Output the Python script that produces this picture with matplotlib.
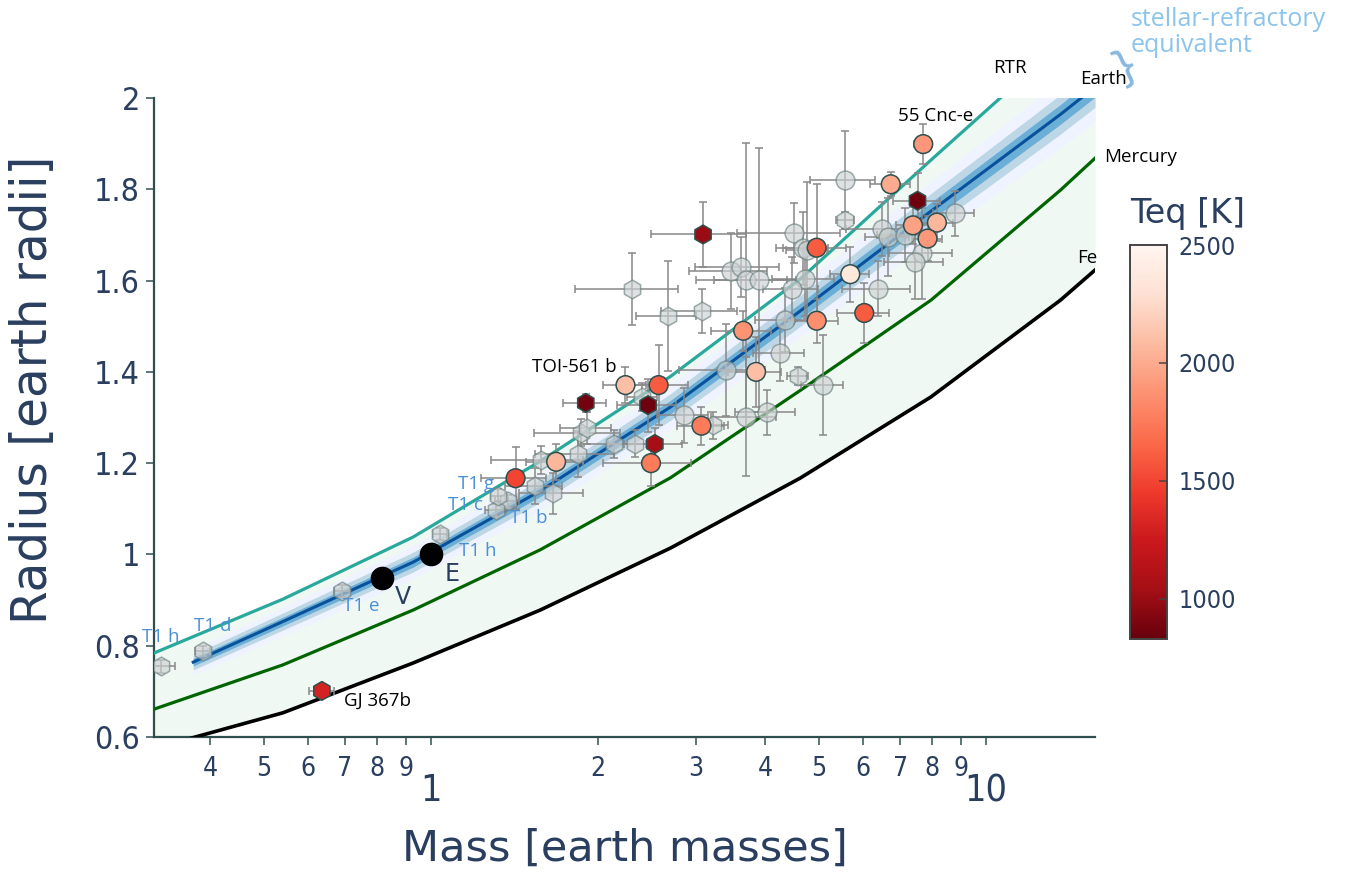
import matplotlib.pyplot as plt
from matplotlib.colors import Normalize
from matplotlib.cm import ScalarMappable

plt.rcParams["font.family"] = ["DejaVu Sans"]
plt.rcParams["font.stretch"] = "condensed"

SLATE = "#2a3f5f"
AXIS = "#2f4f4f"

# composition curves: mass [M_earth] -> radius [R_earth]
CURVE_MASS = [0.317, 0.541, 0.928, 1.572, 2.70, 4.62, 7.95, 13.6, 15.7]
FE_RADIUS = [0.575, 0.653, 0.762, 0.878, 1.014, 1.167, 1.345, 1.557, 1.623]
MERCURY_RADIUS = [0.661, 0.758, 0.878, 1.010, 1.168, 1.359, 1.557, 1.798, 1.868]
RTR_RADIUS = [0.784, 0.902, 1.038, 1.204, 1.390, 1.603, 1.864, 2.118, 2.197]

# stellar-refractory equivalent Earth curve and its spread
EARTH_MASS = [0.373, 0.541, 0.928, 1.572, 2.70, 4.62, 7.95, 13.6, 15.7]
EARTH_RADIUS = [0.764, 0.853, 0.983, 1.139, 1.323, 1.533, 1.752, 1.964, 2.024]
BAND_FRAC = [0.037, 0.022, 0.011]

# planets with Teq, circles
C_MASS = [7.70, 6.73, 4.95, 7.38, 8.15, 7.84, 5.69, 6.03, 4.95, 3.65, 3.85,
          3.07, 2.24, 2.57, 2.49, 1.68, 1.42]
C_RADIUS = [1.899, 1.811, 1.672, 1.721, 1.727, 1.692, 1.614, 1.529, 1.512,
            1.490, 1.400, 1.282, 1.371, 1.371, 1.200, 1.203, 1.167]
C_MERR = [0.29, 0.55, 0.65, 0.5, 0.55, 0.5, 0.45, 0.65, 0.45, 0.45, 0.42,
          0.3, 0.2, 0.33, 0.45, 0.2, 0.19]
C_RERR = [0.044, 0.026, 0.14, 0.04, 0.04, 0.05, 0.06, 0.065, 0.048, 0.044,
          0.077, 0.042, 0.04, 0.088, 0.05, 0.04, 0.068]
C_TEQ = [1900, 2000, 1600, 1950, 2050, 1900, 2350, 1600, 1850, 1880, 2100,
         1750, 2100, 1600, 1750, 2050, 1500]

# planets with Teq, hexagons (last one is GJ 367b)
H_MASS = [3.09, 7.52, 1.90, 2.46, 2.53, 0.636]
H_RADIUS = [1.701, 1.775, 1.332, 1.327, 1.242, 0.701]
H_MERR = [0.6, 0.72, 0.17, 0.3, 0.3, 0.032]
H_RERR = [0.072, 0.06, 0.02, 0.058, 0.035, 0.013]
H_TEQ = [1000, 850, 870, 850, 1050, 1300]

# planets without Teq
GC_MASS = [5.56, 4.51, 4.68, 4.76, 6.49, 6.66, 7.15, 8.77, 7.67, 7.45, 4.72,
           4.47, 6.39, 4.34, 4.25, 3.40, 5.08, 3.69, 4.03, 2.85, 3.47, 3.61,
           3.69, 3.89]
GC_RADIUS = [1.821, 1.705, 1.671, 1.667, 1.713, 1.696, 1.700, 1.747, 1.660,
             1.640, 1.603, 1.581, 1.582, 1.513, 1.441, 1.404, 1.371, 1.302,
             1.311, 1.305, 1.621, 1.630, 1.601, 1.601]
GC_MERR = [0.75, 0.95, 0.5, 0.4, 0.9, 0.6, 0.8, 0.75, 1.0, 0.9, 0.6, 0.5, 0.9,
           0.5, 0.45, 0.6, 0.45, 0.5, 0.5, 0.3, 0.56, 0.62, 0.69, 0.65]
GC_RERR = [0.107, 0.066, 0.08, 0.15, 0.06, 0.085, 0.06, 0.05, 0.1, 0.08, 0.08,
           0.07, 0.06, 0.07, 0.06, 0.1, 0.11, 0.13, 0.05, 0.06, 0.083, 0.066,
           0.3, 0.29]

GH_MASS = [2.30, 2.67, 3.08, 5.57, 4.58, 3.22, 2.40, 1.864, 1.91, 2.14, 2.33,
           1.84, 1.58, 1.54, 1.66]
GH_RADIUS = [1.581, 1.522, 1.533, 1.732, 1.391, 1.283, 1.345, 1.267, 1.276,
             1.242, 1.243, 1.220, 1.207, 1.150, 1.134]
GH_MERR = [0.48, 0.33, 0.48, 0.2, 0.2, 0.2, 0.15, 0.33, 0.2, 0.3, 0.25, 0.3,
           0.3, 0.18, 0.22]
GH_RERR = [0.079, 0.12, 0.048, 0.018, 0.02, 0.03, 0.03, 0.03, 0.035, 0.03,
           0.03, 0.05, 0.03, 0.04, 0.045]

# TRAPPIST-1 planets
T1_LABEL = ["T1 b", "T1 c", "T1 d", "T1 e", "T1 h", "T1 g", "T1 h"]
T1_MASS = [1.374, 1.308, 0.388, 0.692, 1.039, 1.321, 0.326]
T1_RADIUS = [1.116, 1.097, 0.788, 0.920, 1.045, 1.129, 0.755]
T1_MERR = [0.069, 0.056, 0.012, 0.022, 0.031, 0.038, 0.020]
T1_RERR = [0.014, 0.014, 0.011, 0.013, 0.013, 0.015, 0.014]
T1_OFFSET = [(15, -12), (-22, 4), (7, 18), (14, -11), (27, -12), (-16, 8), (0, 21)]

# solar system
SS_LABEL = ["V", "E"]
SS_MASS = [0.815, 1.0]
SS_RADIUS = [0.949, 1.0]

TEQ_MIN, TEQ_MAX = 830, 2500


def main():
    fig = plt.figure(figsize=(13.5, 8.8), dpi=100)
    ax = fig.add_axes([154 / 1350, 143 / 880, 941 / 1350, 639 / 880])
    ax.set_xscale("log")

    ax.fill_between(CURVE_MASS, FE_RADIUS, RTR_RADIUS, color="#eff8f3", lw=0, zorder=1)

    for frac, col in zip(BAND_FRAC, ["#eff3ff", "#bdd7e7", "#6baed6"]):
        lo = [r * (1 - frac) for r in EARTH_RADIUS]
        hi = [r * (1 + frac) for r in EARTH_RADIUS]
        ax.fill_between(EARTH_MASS, lo, hi, color=col, lw=0, zorder=2)
    ax.plot(EARTH_MASS, EARTH_RADIUS, color="#08519c", lw=2.2, zorder=3)

    ax.plot(CURVE_MASS, RTR_RADIUS, color="#29a89c", lw=2.3, zorder=3)
    ax.plot(CURVE_MASS, MERCURY_RADIUS, color="#006400", lw=2.3, zorder=3)
    ax.plot(CURVE_MASS, FE_RADIUS, color="black", lw=2.6, zorder=3)

    eb = dict(fmt="none", ecolor="#888888", elinewidth=1.1, capsize=2.6,
              capthick=1.1, zorder=4)
    ax.errorbar(GC_MASS, GC_RADIUS, xerr=GC_MERR, yerr=GC_RERR, **eb)
    ax.errorbar(GH_MASS, GH_RADIUS, xerr=GH_MERR, yerr=GH_RERR, **eb)
    ax.errorbar(T1_MASS, T1_RADIUS, xerr=T1_MERR, yerr=T1_RERR, **eb)
    ax.errorbar(C_MASS, C_RADIUS, xerr=C_MERR, yerr=C_RERR, **eb)
    ax.errorbar(H_MASS, H_RADIUS, xerr=H_MERR, yerr=H_RERR, **eb)

    grey = dict(s=13.5 ** 2, facecolor=(0.80, 0.82, 0.82, 0.65),
                edgecolor=(0.42, 0.5, 0.5, 0.65), linewidths=1.1, zorder=5)
    ax.scatter(GC_MASS, GC_RADIUS, marker="o", **grey)
    ax.scatter(GH_MASS, GH_RADIUS, marker="h", **grey)
    ax.scatter(T1_MASS, T1_RADIUS, marker="h", **grey)

    norm = Normalize(TEQ_MIN, TEQ_MAX)
    hot = dict(s=13.5 ** 2, cmap="Reds_r", norm=norm, edgecolors=AXIS,
               linewidths=1.1, zorder=6)
    ax.scatter(C_MASS, C_RADIUS, c=C_TEQ, marker="o", **hot)
    ax.scatter(H_MASS, H_RADIUS, c=H_TEQ, marker="h", **hot)

    ax.scatter(SS_MASS, SS_RADIUS, s=16 ** 2, color="black", zorder=7)

    # labels
    osans = dict(family="Open Sans", fontstretch="normal", color="black",
                 fontsize=13.5, ha="center", va="center", zorder=8,
                 annotation_clip=False)
    ax.annotate("55 Cnc-e", (C_MASS[0], C_RADIUS[0]), xytext=(9, 20),
                textcoords="offset points", **osans)
    ax.annotate("TOI-561 b", (C_MASS[12], C_RADIUS[12]), xytext=(-37, 13),
                textcoords="offset points", **osans)
    ax.annotate("GJ 367b", (H_MASS[5], H_RADIUS[5]), xytext=(40, -7),
                textcoords="offset points", **osans)
    for lab, m, r, off in zip(T1_LABEL, T1_MASS, T1_RADIUS, T1_OFFSET):
        ax.annotate(lab, (m, r), xytext=off, textcoords="offset points",
                    **{**osans, "color": "#4b8fd6"})
    for lab, m, r in zip(SS_LABEL, SS_MASS, SS_RADIUS):
        ax.annotate(lab, (m, r), xytext=(15, -14), textcoords="offset points",
                    fontsize=17, color=SLATE, ha="center", va="center",
                    fontstretch="normal")

    curve_txt = dict(family="Open Sans", fontstretch="normal", fontsize=13.5,
                     color="black", ha="center", va="center", clip_on=False)
    ax.text(11.05, 2.065, "RTR", **curve_txt)
    ax.text(16.25, 2.041, "Earth", **curve_txt)
    ax.text(19.0, 1.870, "Mercury", **curve_txt)
    ax.text(15.2, 1.649, "Fe", **curve_txt)

    fig.text(1131 / 1350, 1 - 20 / 880, "stellar-refractory", family="Open Sans",
             fontstretch="normal", fontsize=18, color="#8cc4ec", ha="left", va="center")
    fig.text(1131 / 1350, 1 - 45 / 880, "equivalent", family="Open Sans",
             fontstretch="normal", fontsize=18, color="#8cc4ec", ha="left", va="center")
    fig.text(1126 / 1350, 1 - 66 / 880, "}", family="DejaVu Sans", fontstretch="normal",
             fontsize=30, color="#88b8e0", ha="center", va="center", rotation=25)

    # axes
    ax.set_xlim(0.317, 15.7)
    ax.set_ylim(0.6, 2.0)
    ax.set_yticks([0.6, 0.8, 1.0, 1.2, 1.4, 1.6, 1.8, 2.0])
    ax.set_yticklabels(["0.6", "0.8", "1", "1.2", "1.4", "1.6", "1.8", "2"])
    ax.set_xticks([1, 10])
    ax.set_xticklabels(["1", "10"])
    minor = [0.4, 0.5, 0.6, 0.7, 0.8, 0.9, 2, 3, 4, 5, 6, 7, 8, 9]
    ax.set_xticks(minor, minor=True)
    ax.set_xticklabels(["4", "5", "6", "7", "8", "9", "2", "3", "4", "5", "6",
                        "7", "8", "9"], minor=True)
    ax.tick_params(axis="y", length=6, width=1.1, color=AXIS, labelsize=23,
                   labelcolor=SLATE, pad=4)
    ax.tick_params(axis="x", which="major", length=6, width=1.1, color=AXIS,
                   labelsize=27, labelcolor=SLATE, pad=20)
    ax.tick_params(axis="x", which="minor", length=6, width=1.1, color=AXIS,
                   labelsize=19, labelcolor=SLATE, pad=8)
    for side in ("top", "right"):
        ax.spines[side].set_visible(False)
    for side in ("left", "bottom"):
        ax.spines[side].set_color(AXIS)
        ax.spines[side].set_linewidth(1.6)

    ax.set_xlabel("Mass [earth masses]", fontsize=31, color=SLATE,
                  fontstretch="normal")
    ax.xaxis.set_label_coords(0.5, (737 - 828) / 639)
    ax.set_ylabel("Radius [earth radii]", fontsize=35, color=SLATE,
                  fontstretch="normal", va="center")
    ax.yaxis.set_label_coords((33 - 154) / 941, (737 - 390) / 639)

    # colour bar
    cax = fig.add_axes([1130 / 1350, 1 - 639 / 880, 37 / 1350, 394 / 880])
    cb = fig.colorbar(ScalarMappable(norm=norm, cmap="Reds_r"), cax=cax,
                      ticks=[1000, 1500, 2000, 2500])
    cb.outline.set_edgecolor("#444444")
    cb.outline.set_linewidth(1.4)
    cax.tick_params(direction="in", length=6, width=1.1, color="#444444",
                    labelsize=18, labelcolor=SLATE, pad=8)
    fig.text(1130 / 1350, 1 - 223 / 880, "Teq [K]", fontsize=24, color=SLATE,
             fontstretch="normal", ha="left", va="baseline")

    fig.savefig("out.png", dpi=100)


if __name__ == "__main__":
    main()
